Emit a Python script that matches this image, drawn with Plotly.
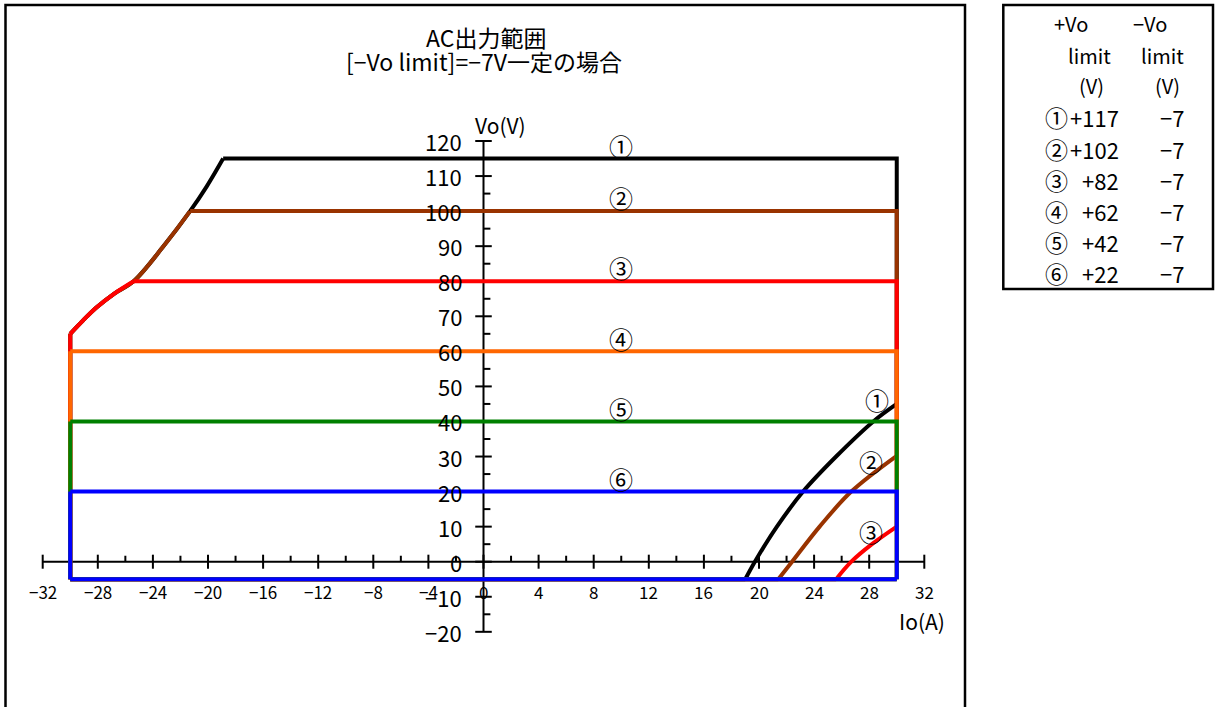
import plotly.graph_objects as go

# ---------------- data ----------------
series_labels = ["①", "②", "③", "④", "⑤", "⑥"]
series_colors = ["#000000", "#993300", "#FF0000", "#FF6600", "#008000", "#0000FF"]
plus_vo_limit = ["+117", "+102", "+82", "+62", "+42", "+22"]
minus_vo_limit = ["−7", "−7", "−7", "−7", "−7", "−7"]
top_vo = [115, 100, 80, 60, 40, 20]
bottom_vo = -5
io_left, io_right = -30, 30

# shared boundary curve on the negative-current side
left_curve_io = [-30.0, -29.1, -28.1, -26.8, -25.4, -23.25, -21.3, -20.1, -18.9]
left_curve_vo = [65, 68.7, 72.5, 76.5, 80, 89.9, 100, 107, 115]

# boundary curves on the positive-current side (series ①, ②, ③)
right_curve_io = {
    0: [30.0, 28.3, 25.6, 23.2, 21.3, 19.7, 19.0],
    1: [30.0, 26.7, 24.4, 22.4, 21.4],
    2: [30.0, 28.2, 26.7, 25.6],
}
right_curve_vo = {
    0: [45, 40, 30, 20, 10, 0, -5],
    1: [30.2, 20, 10, 0, -5],
    2: [10, 5, 0, -5],
}

x_major_ticks = list(range(-32, 33, 4))
x_minor_ticks = list(range(-30, 31, 4))
y_major_ticks = list(range(-20, 121, 10))
y_minor_ticks = list(range(-15, 116, 10))
x_tick_labels = [("−" + str(-v)) if v < 0 else str(v) for v in x_major_ticks]
y_tick_labels = [("−" + str(-v)) if v < 0 else str(v) for v in y_major_ticks]

# ---------------- layout geometry ----------------
W, H = 1215, 707
X0PX, SX = 483.5, 13.775
Y0PX, SY = 561.7, 3.5058
xr = [-X0PX / SX, (W - X0PX) / SX]
yr = [-(H - Y0PX) / SY, Y0PX / SY]

FONT = "Noto Sans CJK JP, Noto Sans, sans-serif"

fig = go.Figure()

# axes lines
fig.add_trace(go.Scatter(x=[x_major_ticks[0], x_major_ticks[-1]], y=[0, 0], mode="lines",
                         line=dict(color="black", width=2), hoverinfo="skip"))
fig.add_trace(go.Scatter(x=[0, 0], y=[y_major_ticks[0], y_major_ticks[-1]], mode="lines",
                         line=dict(color="black", width=2), hoverinfo="skip"))
# tick marks
tx, ty = [], []
for v in x_major_ticks:
    tx += [v, v, None]; ty += [-2.0, 2.0, None]
for v in x_minor_ticks:
    tx += [v, v, None]; ty += [0, 1.7, None]
for v in y_major_ticks:
    tx += [-0.6, 0.6, None]; ty += [v, v, None]
for v in y_minor_ticks:
    tx += [0, 0.5, None]; ty += [v, v, None]
fig.add_trace(go.Scatter(x=tx, y=ty, mode="lines", line=dict(color="black", width=2),
                         hoverinfo="skip"))


def add_curve(xs, ys, color):
    fig.add_trace(go.Scatter(x=xs, y=ys, mode="lines",
                             line=dict(color=color, width=4, shape="spline", smoothing=1.0),
                             hoverinfo="skip"))


# series outlines
for i, top in enumerate(top_vo):
    color = series_colors[i]
    sx, sy = [], []   # straight segments
    # left side
    if top > left_curve_vo[0]:
        sx += [io_left, io_left, None]; sy += [bottom_vo, left_curve_vo[0], None]
        k = [j for j, v in enumerate(left_curve_vo) if v <= top]
        add_curve([left_curve_io[j] for j in k], [left_curve_vo[j] for j in k], color)
        top_start = left_curve_io[k[-1]]
    else:
        sx += [io_left, io_left, None]; sy += [bottom_vo, top, None]
        top_start = io_left
    # top and right side
    if i in right_curve_io:
        rio, rvo = right_curve_io[i], right_curve_vo[i]
        sx += [top_start, io_right, io_right, None]; sy += [top, top, rvo[0], None]
        add_curve(rio, rvo, color)
        bottom_end = rio[-1]
    else:
        sx += [top_start, io_right, io_right, None]; sy += [top, top, bottom_vo, None]
        bottom_end = io_right
    sx += [bottom_end, io_left]; sy += [bottom_vo, bottom_vo]
    fig.add_trace(go.Scatter(x=sx, y=sy, mode="lines", line=dict(color=color, width=4),
                             hoverinfo="skip"))

ann = []
# tick labels
for v, t in zip(x_major_ticks, x_tick_labels):
    ann.append(dict(x=v, y=-8.5, xref="x", yref="y", text=t, showarrow=False,
                    xanchor="center", yanchor="middle", font=dict(size=17, color="black", family=FONT)))
for v, t in zip(y_major_ticks, y_tick_labels):
    ann.append(dict(x=-1.45, y=v, xref="x", yref="y", text=t, showarrow=False,
                    xanchor="right", yanchor="middle", font=dict(size=22, color="black", family=FONT)))
# axis titles
ann.append(dict(x=1.2, y=124.5, xref="x", yref="y", text="Vo(V)", showarrow=False,
                xanchor="center", yanchor="middle", font=dict(size=21, color="black", family=FONT)))
ann.append(dict(x=31.8, y=-17, xref="x", yref="y", text="Io(A)", showarrow=False,
                xanchor="center", yanchor="middle", font=dict(size=21, color="black", family=FONT)))
# series labels
CF = dict(size=24, color="black", family=FONT)
for i, top in enumerate(top_vo):
    ann.append(dict(x=10, y=top + 3.8, xref="x", yref="y", text=series_labels[i], showarrow=False,
                    xanchor="center", yanchor="middle", font=CF))
right_label_pos = {0: (28.6, 46.2), 1: (28.1, 28.7), 2: (28.1, 8.7)}
for i, (lx, ly) in right_label_pos.items():
    ann.append(dict(x=lx, y=ly, xref="x", yref="y", text=series_labels[i],
                    showarrow=False, xanchor="center", yanchor="middle", font=CF))


def px(x):
    return x / W


def py(y):
    return 1 - y / H


# title
ann.append(dict(x=px(486), y=py(37), xref="paper", yref="paper", text="AC出力範囲", showarrow=False,
                xanchor="center", yanchor="middle", font=dict(size=23, color="black", family=FONT)))
ann.append(dict(x=px(484), y=py(61), xref="paper", yref="paper", text="[−Vo limit]=−7V一定の場合",
                showarrow=False, xanchor="center", yanchor="middle",
                font=dict(size=23, color="black", family=FONT)))

# side table
tf = dict(size=20, color="black", family=FONT)
vf = dict(size=22, color="black", family=FONT)
TCF = dict(size=23, color="black", family=FONT)
header_rows = [24, 55, 85]
for xc, txt, r in [(1071, "+Vo", 0), (1089, "limit", 1), (1091, "(V)", 2),
                   (1150, "−Vo", 0), (1162, "limit", 1), (1167, "(V)", 2)]:
    ann.append(dict(x=px(xc), y=py(header_rows[r]), xref="paper", yref="paper", text=txt,
                    showarrow=False, xanchor="center", yanchor="middle", font=tf))
row_y = [117, 149, 180, 211, 242, 273]
for i in range(len(series_labels)):
    ann.append(dict(x=px(1043), y=py(row_y[i]), xref="paper", yref="paper", text=series_labels[i],
                    showarrow=False, xanchor="left", yanchor="middle", font=TCF))
    ann.append(dict(x=px(1121), y=py(row_y[i]), xref="paper", yref="paper", text=plus_vo_limit[i],
                    showarrow=False, xanchor="right", yanchor="middle", font=vf))
    ann.append(dict(x=px(1186), y=py(row_y[i]), xref="paper", yref="paper", text=minus_vo_limit[i],
                    showarrow=False, xanchor="right", yanchor="middle", font=vf))

shapes = [
    dict(type="rect", xref="paper", yref="paper", x0=px(5.5), x1=px(965), y0=-0.05, y1=py(5),
         line=dict(color="black", width=2.5), fillcolor="rgba(0,0,0,0)", layer="below"),
    dict(type="rect", xref="paper", yref="paper", x0=px(1003.3), x1=px(1213), y0=py(289), y1=py(5),
         line=dict(color="black", width=2.5), fillcolor="rgba(0,0,0,0)", layer="below"),
]

fig.update_layout(
    width=W, height=H,
    margin=dict(l=0, r=0, t=0, b=0, pad=0),
    paper_bgcolor="white", plot_bgcolor="white",
    showlegend=False, hovermode=False,
    xaxis=dict(range=xr, visible=False, fixedrange=True),
    yaxis=dict(range=yr, visible=False, fixedrange=True),
    annotations=ann, shapes=shapes,
)

fig.write_html("out.html", config={"displayModeBar": False},
               post_script="document.body.style.margin='0px';document.body.style.overflow='hidden';")
